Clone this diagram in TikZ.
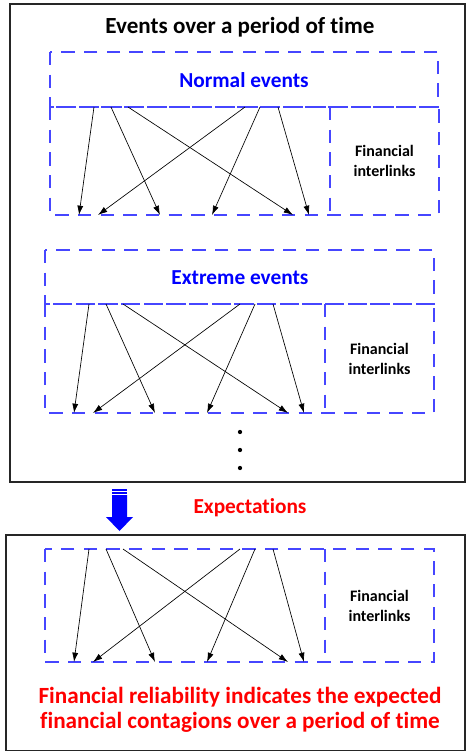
\documentclass[tikz,border=0pt]{standalone}
\usepackage{fontspec}
\setmainfont[Ligatures=NoCommon]{Carlito}
\usetikzlibrary{arrows.meta,positioning}
\definecolor{boxblue}{RGB}{70,70,255}
\definecolor{textred}{RGB}{255,0,0}
\tikzset{font=\bfseries}
\tikzset{dbox/.style={draw=boxblue,line width=1.1pt,dash pattern=on 10pt off 7pt}}
\tikzset{outer/.style={draw=black!85,line width=1pt}}
\tikzset{link/.style={-{Latex[length=7pt,width=4.5pt]},line width=0.5pt}}
\tikzset{bigtext/.style={font=\bfseries\fontsize{16}{19}\selectfont}}
\tikzset{pics/netblock/.style={code={
    \draw[dbox] (0,0) rectangle (389,#1);
    \draw[dbox] (280,0) -- (280,#1);
    \node[font=\bfseries\fontsize{12}{15}\selectfont,align=center] (-fin) at (334.5,#1/2) {Financial\\interlinks};
    \foreach \s/\e [count=\i] in {44/29,61/110,78/243,195/48,210/162,228/259}{
      \coordinate (-s\i) at (\s,0);
      \coordinate (-e\i) at (\e,#1);
      \draw[link] (-s\i) -- (-e\i);
    }
  }}}

\begin{document}
\begin{tikzpicture}[x=0.75pt,y=-0.75pt]
\useasboundingbox (0,0) rectangle (466,751);
\draw[outer] (10,4) rectangle (465,482);
\draw[outer] (6,535) rectangle (465,751);
\node[font=\bfseries\fontsize{17.3}{20}\selectfont] (title) at (240,27) {Events over a period of time};

% normal events
\draw[dbox] (50,52) rectangle (438,107);
\node[bigtext,text=blue] (normal) at (244,80) {Normal events};
\pic (nb) at (50,107) {netblock=108};

% extreme events
\draw[dbox] (45,250) rectangle (434,304);
\node[bigtext,text=blue] (extreme) at (240,278) {Extreme events};
\pic (eb) at (45,304) {netblock=109};
\foreach \y in {432,450,468}
\fill (240,\y) circle (1.6pt);

% expectation
\fill[blue] (112,489) rectangle (127,490.5);
\fill[blue] (112,492) rectangle (127,493.5);
\fill[blue] (112,495) -- (127,495) -- (127,517) -- (133,517) -- (119.5,531) -- (106,517) -- (112,517) -- cycle;
\node[bigtext,text=textred] (expect) at (250,508) {Expectations};
\pic (xb) at (45,549) {netblock=113};
\node[font=\bfseries\fontsize{17.4}{19}\selectfont,text=textred,align=center] (reliab) at (240,710)
  {Financial reliability indicates the expected\\financial contagions over a period of time};
\end{tikzpicture}
\end{document}
